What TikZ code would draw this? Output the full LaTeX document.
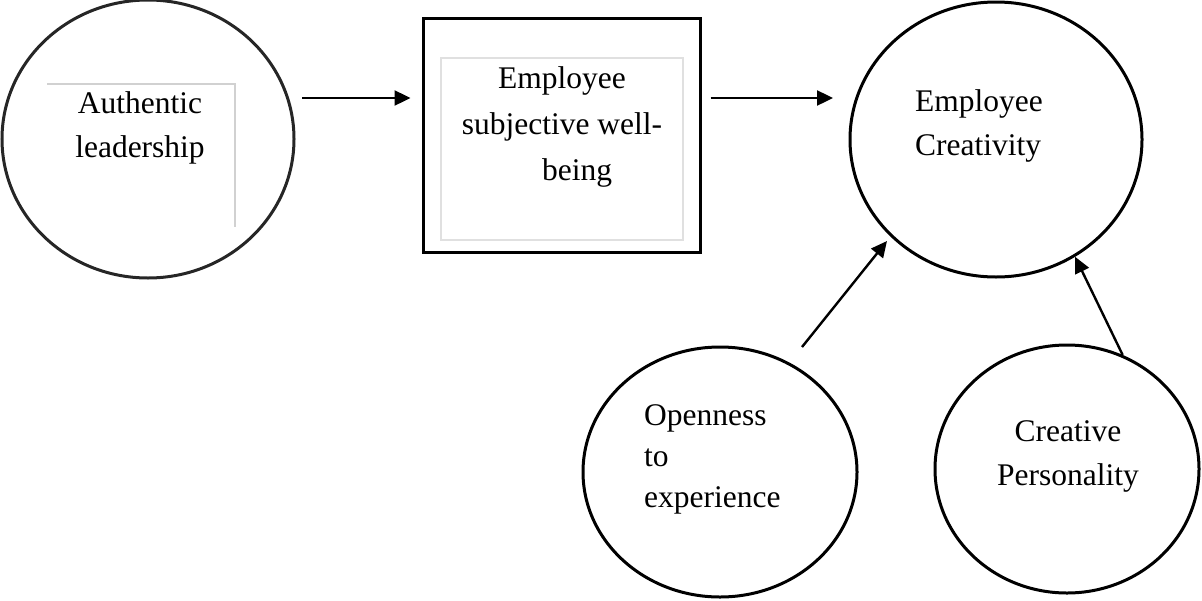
\documentclass[tikz,border=0pt]{standalone}
\usepackage{fontspec}
\setmainfont{Liberation Serif}
\usetikzlibrary{shapes.geometric,arrows.meta}

\tikzset{
  construct/.style={ellipse, draw, line width=3pt, inner sep=0pt},
  framebox/.style={draw, line width=3pt, inner sep=0pt},
  nametext/.style={font=\fontsize{31.5}{44}\selectfont, inner sep=0pt},
  link/.style={-{Triangle[length=16pt,width=15pt]}, line width=2.4pt},
}

\begin{document}
\begin{tikzpicture}[x=1pt,y=-1pt]
    \useasboundingbox (0,0) rectangle (1202,600);

    % constructs (base anchor sits on the last line)
    \node[construct, draw=black!85, minimum width=292, minimum height=278] (al) at (148,139) {};
    \draw[black!18, line width=1.5pt] (47,84) -- (235,84) -- (235,227);
    \node[nametext, align=center, anchor=base] (altext) at (140,157) {Authentic\\leadership};

    \node[framebox, minimum width=277, minimum height=234] (wb) at (561.5,135) {};
    \draw[black!12, line width=1.5pt] (441,58) rectangle (683,240);
    \node[nametext, align=center, anchor=base, font=\fontsize{31.5}{46}\selectfont] (wbtext) at (562,180) {Employee\\subjective well-\\\hspace*{30pt}being};

    \node[construct, minimum width=292, minimum height=275] (ec) at (996,139.5) {};
    \node[nametext, align=left, anchor=base west] (ectext) at (915,155) {Employee\\Creativity};

    \node[construct, minimum width=274, minimum height=250] (oe) at (720,472) {};
    \node[nametext, align=left, anchor=base west, font=\fontsize{31.5}{41}\selectfont] (oetext) at (644,507) {Openness\\to\\experience};

    \node[construct, minimum width=264, minimum height=248] (cp) at (1067,469) {};
    \node[nametext, align=center, anchor=base] (cptext) at (1068,485) {Creative\\Personality};

    % paths
    \coordinate (a1) at (302,98);
    \coordinate (a2) at (833,98);
    \coordinate (a3) at (802,347);
    \coordinate (a3tip) at (887,241);

    \draw[link, shorten >=11pt] (a1) -- (wb.west |- a1);
    \draw[link, shorten <=9pt] (wb.east |- a2) -- (a2);
    \draw[link] (a3) -- (a3tip);
    \draw[link] (cp.64) -- (ec.-56);
\end{tikzpicture}
\end{document}
